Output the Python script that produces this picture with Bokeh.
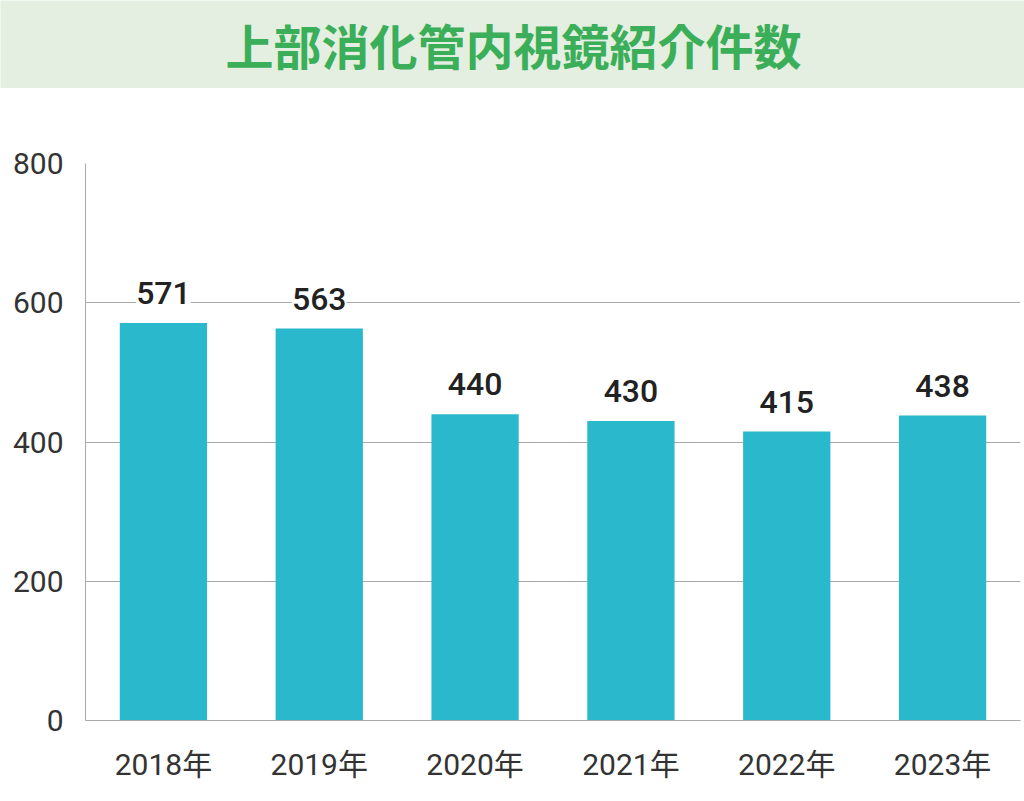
from bokeh.plotting import figure
from bokeh.models import ColumnDataSource, FactorRange, Range1d, FixedTicker, LabelSet
from bokeh.core.properties import value
from bokeh.embed import file_html
from bokeh.resources import INLINE

title_text = "上部消化管内視鏡紹介件数"
years = ["2018年", "2019年", "2020年", "2021年", "2022年", "2023年"]
counts = [571, 563, 440, 430, 415, 438]
y_ticks = [0, 200, 400, 600, 800]

BAND = "#e4eee1"
GREEN = "#3bae59"
BAR = "#29b8cc"
GRID = "#a9a9a9"
FONT = "Roboto, Noto Sans CJK JP"

# header band
h = figure(width=1024, height=88, x_range=Range1d(0, 1024), y_range=Range1d(0, 88),
           toolbar_location=None, output_backend="svg", min_border=0,
           x_axis_location=None, y_axis_location=None)
h.grid.visible = False
h.outline_line_color = None
h.background_fill_color = BAND
h.border_fill_color = BAND
hsrc = ColumnDataSource(dict(x=[513], y=[45], t=[title_text]))
h.text(x="x", y="y", text="t", source=hsrc, text_align="center", text_baseline="middle",
       text_font_size="48px", text_font_style="bold", text_color=GREEN,
       text_font=value("Noto Sans CJK JP"))

# main chart
src = ColumnDataSource(dict(x=years, y=counts, lbl=[str(v) for v in counts]))
p = figure(width=1024, height=713, x_range=FactorRange(*years, range_padding=0),
           y_range=Range1d(0, 800), toolbar_location=None, output_backend="svg",
           min_border_left=85, min_border_right=4, min_border_top=75, min_border_bottom=81)
p.outline_line_color = None
p.xgrid.grid_line_color = None
p.ygrid.grid_line_color = GRID
p.ygrid.grid_line_width = 1
p.yaxis.ticker = FixedTicker(ticks=y_ticks)
p.ygrid.ticker = FixedTicker(ticks=y_ticks)
for ax in (p.xaxis, p.yaxis):
    ax.axis_line_color = GRID
    ax.axis_line_width = 1
    ax.major_tick_line_color = None
    ax.minor_tick_line_color = None
    ax.major_label_text_font_size = "30px"
    ax.major_label_text_color = "#333333"
    ax.major_label_text_font = FONT
p.yaxis.major_label_standoff = 16
p.xaxis.major_label_standoff = 20

p.vbar(x="x", top="y", width=0.56, source=src, fill_color=BAR, line_color=None)

labels = LabelSet(x="x", y="y", text="lbl", source=src, y_offset=19,
                  text_align="center", text_baseline="alphabetic",
                  text_font_size="32px", text_font=value("Roboto Medium, Roboto"),
                  text_color="#222222", background_fill_color="white")
p.add_layout(labels)

open("out.html", "w").write(file_html([h, p], INLINE))
